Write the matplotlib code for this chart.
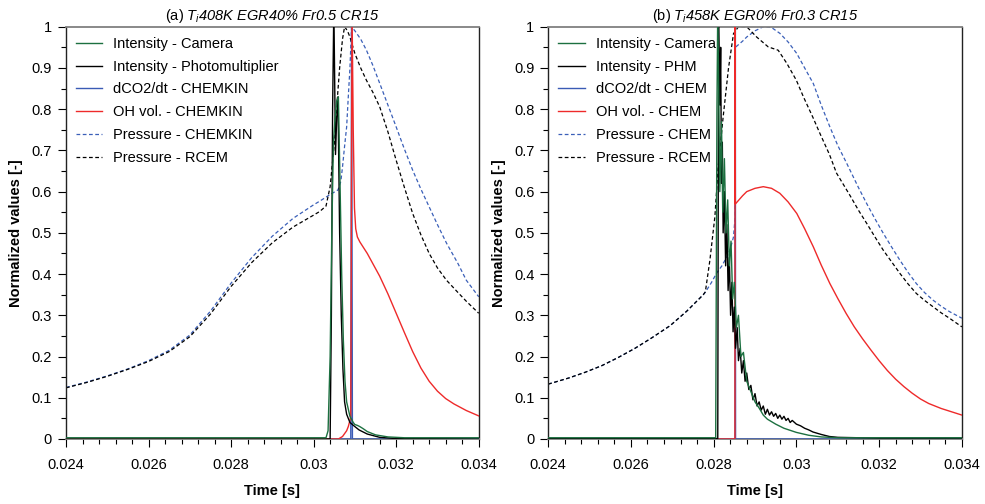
import matplotlib
matplotlib.use("Agg")
import matplotlib.pyplot as plt
from matplotlib.ticker import MultipleLocator, FuncFormatter

plt.rcParams["font.family"] = ["Liberation Sans", "DejaVu Sans"]
plt.rcParams["mathtext.fontset"] = "custom"
plt.rcParams["mathtext.rm"] = "Liberation Sans:italic"
plt.rcParams["mathtext.it"] = "Liberation Sans:italic"

# ---------------- panel (a) ----------------
a_cam_t = [0.024, 0.0303, 0.03035, 0.0304, 0.03044, 0.03048, 0.03052, 0.03056, 0.0306, 0.03064,
           0.03068, 0.03072, 0.03076, 0.0308, 0.03088, 0.03096, 0.0310, 0.03106, 0.03112, 0.0312,
           0.0313, 0.0315, 0.0318, 0.0322, 0.034]
a_cam_v = [0.003, 0.003, 0.02, 0.2, 0.5, 0.72, 0.78, 0.82, 0.83, 0.62,
           0.4, 0.24, 0.14, 0.09, 0.055, 0.04, 0.035, 0.033, 0.03, 0.025,
           0.018, 0.01, 0.005, 0.003, 0.003]

a_phm_t = [0.024, 0.0304, 0.03043, 0.03046, 0.03049, 0.03053, 0.03056, 0.03059, 0.03063, 0.03067,
           0.03071, 0.03075, 0.0308, 0.03088, 0.031, 0.0311, 0.0313, 0.0316, 0.032, 0.034]
a_phm_v = [0.0, 0.0, 0.3, 0.8, 1.05, 0.69, 0.78, 0.83, 0.5, 0.3,
           0.17, 0.09, 0.06, 0.04, 0.03, 0.022, 0.012, 0.004, 0.001, 0.0]

a_dco2_t = [0.024, 0.0309, 0.03092, 0.03094, 0.034]
a_dco2_v = [0.0, 0.0, 1.05, 0.0, 0.0]

a_oh_t = [0.024, 0.0306, 0.0307, 0.03075, 0.0308, 0.03084, 0.03088, 0.0309, 0.03093, 0.03096,
          0.03099, 0.03102, 0.03106, 0.03112, 0.0313, 0.0316, 0.0318, 0.032, 0.0322, 0.0324,
          0.0326, 0.0328, 0.033, 0.0332, 0.0334, 0.0337, 0.034]
a_oh_v = [0.0, 0.0, 0.006, 0.013, 0.02, 0.03, 0.045, 0.055, 1.05, 0.75,
          0.56, 0.51, 0.49, 0.478, 0.45, 0.395, 0.352, 0.305, 0.258, 0.212,
          0.172, 0.14, 0.116, 0.098, 0.085, 0.069, 0.056]

a_pchem_t = [0.024, 0.0245, 0.025, 0.0255, 0.026, 0.0265, 0.027, 0.0275, 0.028, 0.0285,
             0.029, 0.0295, 0.03, 0.03015, 0.0304, 0.03059, 0.03066, 0.0307,
             0.03075, 0.0308, 0.03084, 0.03088, 0.03092, 0.031, 0.03114, 0.03128, 0.03144, 0.0316,
             0.0318, 0.032, 0.0322, 0.0324, 0.0326, 0.0328, 0.033, 0.03322, 0.0335, 0.0337, 0.034]
a_pchem_v = [0.125, 0.138, 0.153, 0.17, 0.19, 0.215, 0.252, 0.31, 0.378, 0.44,
             0.492, 0.535, 0.568, 0.577, 0.593, 0.604, 0.625, 0.66,
             0.71, 0.757, 0.83, 0.9, 1.0, 0.99, 0.97, 0.943, 0.905, 0.863,
             0.81, 0.757, 0.703, 0.652, 0.606, 0.563, 0.52, 0.475, 0.425, 0.385, 0.345]

a_prcem_t = [0.024, 0.0245, 0.025, 0.0255, 0.026, 0.0265, 0.027, 0.0275, 0.028, 0.0285,
             0.029, 0.0295, 0.03, 0.03015, 0.0303, 0.0304, 0.03051, 0.03057,
             0.03063, 0.0307, 0.03075, 0.03082, 0.03088, 0.031, 0.03114, 0.03128, 0.03144, 0.0316,
             0.0318, 0.032, 0.0322, 0.0324, 0.0326, 0.0328, 0.033, 0.03322, 0.0335, 0.0337, 0.034]
a_prcem_v = [0.124, 0.137, 0.152, 0.169, 0.188, 0.212, 0.248, 0.303, 0.37, 0.428,
             0.476, 0.514, 0.543, 0.552, 0.565, 0.612, 0.725, 0.82,
             0.9, 0.97, 1.0, 0.99, 0.975, 0.935, 0.9, 0.87, 0.84, 0.806,
             0.745, 0.676, 0.61, 0.547, 0.495, 0.45, 0.415, 0.385, 0.355, 0.334, 0.305]

# ---------------- panel (b) ----------------
b_cam_t = [0.024, 0.02805, 0.02808, 0.0281, 0.02815, 0.02819, 0.02822, 0.02826, 0.0283, 0.02834,
           0.02838, 0.02842, 0.02846, 0.0285, 0.02855, 0.0286, 0.02866, 0.02872, 0.0288, 0.02888,
           0.029, 0.0291, 0.0292, 0.0293, 0.0295, 0.0297, 0.03, 0.0303, 0.0306, 0.031, 0.034]
b_cam_v = [0.003, 0.003, 0.8, 1.05, 0.6, 0.77, 0.55, 0.68, 0.5, 0.58,
           0.42, 0.48, 0.34, 0.38, 0.27, 0.3, 0.2, 0.21, 0.14, 0.12,
           0.09, 0.075, 0.058, 0.048, 0.036, 0.026, 0.016, 0.009, 0.005, 0.003, 0.003]

b_phm_t = [0.024, 0.0281, 0.02812, 0.02815, 0.02817, 0.02819, 0.02821, 0.02823, 0.02826, 0.02829,
           0.02832, 0.02835, 0.02838, 0.02841, 0.02844, 0.02847, 0.0285, 0.02853, 0.02857, 0.0286,
           0.02864, 0.02868, 0.02872, 0.02876, 0.0288, 0.02885, 0.0289, 0.02895, 0.029, 0.02905,
           0.0291, 0.02915, 0.0292, 0.02925, 0.0293, 0.02935, 0.0294, 0.02945, 0.0295, 0.02955,
           0.0296, 0.02965, 0.0297, 0.02975, 0.0298, 0.02985, 0.0299, 0.03, 0.0301, 0.0302,
           0.0303, 0.0304, 0.0306, 0.0308, 0.031, 0.032, 0.034]
b_phm_v = [0.001, 0.001, 1.05, 0.81, 0.95, 0.62, 0.72, 0.5, 0.6, 0.42,
           0.52, 0.36, 0.44, 0.3, 0.38, 0.26, 0.32, 0.22, 0.27, 0.19,
           0.22, 0.16, 0.19, 0.14, 0.16, 0.12, 0.13, 0.095, 0.11, 0.08,
           0.09, 0.07, 0.08, 0.06, 0.072, 0.058, 0.066, 0.055, 0.062, 0.05,
           0.058, 0.048, 0.055, 0.045, 0.05, 0.04, 0.045, 0.036, 0.032, 0.026,
           0.022, 0.017, 0.011, 0.006, 0.004, 0.002, 0.002]

b_dco2_t = [0.024, 0.02852, 0.028525, 0.02853, 0.034]
b_dco2_v = [0.0, 0.0, 1.05, 0.0, 0.0]

b_oh_t = [0.024, 0.028515, 0.02852, 0.028525, 0.0287, 0.0288, 0.029, 0.0292, 0.0294, 0.0296,
          0.0298, 0.03001, 0.0302, 0.03041, 0.0306, 0.03081, 0.031, 0.0312, 0.0314, 0.0316,
          0.0318, 0.032, 0.0322, 0.0324, 0.0326, 0.0328, 0.033, 0.0332, 0.0335, 0.034]
b_oh_v = [0.0, 0.0, 1.05, 0.57, 0.59, 0.6, 0.608, 0.612, 0.608, 0.596,
          0.575, 0.547, 0.51, 0.466, 0.422, 0.377, 0.341, 0.305, 0.272, 0.243,
          0.216, 0.19, 0.166, 0.145, 0.127, 0.111, 0.097, 0.086, 0.074, 0.058]

b_pchem_t = [0.024, 0.0245, 0.0249, 0.0253, 0.0257, 0.0261, 0.0265, 0.02695, 0.02735, 0.02755,
             0.02775, 0.0278, 0.02795, 0.02807, 0.0282, 0.02832, 0.0284, 0.02848, 0.02852, 0.028525,
             0.0287, 0.0288, 0.029, 0.0292, 0.0294, 0.0296, 0.0298, 0.03001, 0.0302, 0.03041,
             0.0306, 0.03081, 0.031, 0.03122, 0.0315, 0.0317, 0.0319, 0.0321, 0.0323, 0.0325,
             0.0327, 0.0329, 0.0331, 0.0333, 0.0335, 0.0337, 0.034]
b_pchem_v = [0.133, 0.148, 0.162, 0.178, 0.198, 0.22, 0.245, 0.275, 0.31, 0.33,
             0.35, 0.356, 0.38, 0.402, 0.42, 0.442, 0.46, 0.49, 0.539, 0.95,
             0.965, 0.975, 0.99, 1.0, 0.998, 0.984, 0.963, 0.935, 0.9, 0.862,
             0.81, 0.757, 0.712, 0.668, 0.61, 0.571, 0.534, 0.499, 0.466, 0.434,
             0.404, 0.377, 0.355, 0.337, 0.322, 0.309, 0.293]

b_prcem_t = [0.024, 0.0245, 0.0249, 0.0253, 0.0257, 0.0261, 0.0265, 0.02695, 0.02735, 0.02755,
             0.02775, 0.0278, 0.02791, 0.02803, 0.02811, 0.02823, 0.02836, 0.02848, 0.0286, 0.0288,
             0.02904, 0.02932, 0.02956, 0.02977, 0.03, 0.03017, 0.0304, 0.03057, 0.0308, 0.03097,
             0.0313, 0.0315, 0.0317, 0.0319, 0.0321, 0.0323, 0.0325, 0.0327, 0.0329, 0.0331,
             0.0333, 0.0335, 0.0337, 0.034]
b_prcem_v = [0.133, 0.148, 0.162, 0.178, 0.198, 0.22, 0.245, 0.275, 0.31, 0.33,
             0.35, 0.357, 0.434, 0.539, 0.66, 0.781, 0.9, 0.983, 1.0, 1.0,
             0.975, 0.951, 0.943, 0.911, 0.87, 0.83, 0.78, 0.741, 0.69, 0.645,
             0.59, 0.555, 0.523, 0.49, 0.458, 0.43, 0.402, 0.376, 0.353, 0.336,
             0.321, 0.306, 0.293, 0.272]

panels = [
    {
        "title": r"(a) $T_i408K\ EGR40\%\ Fr0.5\ CR15$",
        "series": [
            (a_cam_t, a_cam_v, "Intensity - Camera"),
            (a_phm_t, a_phm_v, "Intensity - Photomultiplier"),
            (a_dco2_t, a_dco2_v, "dCO2/dt - CHEMKIN"),
            (a_oh_t, a_oh_v, "OH vol. - CHEMKIN"),
            (a_pchem_t, a_pchem_v, "Pressure - CHEMKIN"),
            (a_prcem_t, a_prcem_v, "Pressure - RCEM"),
        ],
    },
    {
        "title": r"(b) $T_i458K\ EGR0\%\ Fr0.3\ CR15$",
        "series": [
            (b_cam_t, b_cam_v, "Intensity - Camera"),
            (b_phm_t, b_phm_v, "Intensity - PHM"),
            (b_dco2_t, b_dco2_v, "dCO2/dt - CHEM"),
            (b_oh_t, b_oh_v, "OH vol. - CHEM"),
            (b_pchem_t, b_pchem_v, "Pressure - CHEM"),
            (b_prcem_t, b_prcem_v, "Pressure - RCEM"),
        ],
    },
]

styles = [
    dict(color="#1c7040", lw=1.0, ls="-", zorder=6),
    dict(color="black", lw=1.0, ls="-", zorder=5),
    dict(color="#3a5bb5", lw=1.0, ls="-", zorder=3),
    dict(color="#ee2a2a", lw=1.0, ls="-", zorder=4),
    dict(color="#3a5fb8", lw=0.9, ls=(0, (3, 2)), zorder=2),
    dict(color="black", lw=0.9, ls=(0, (3, 2)), zorder=2),
]

fig = plt.figure(figsize=(9.85, 5.04), dpi=100)
ax_pos = [[0.067, 0.129, 0.419, 0.818], [0.5565, 0.129, 0.42, 0.818]]

for pos, panel in zip(ax_pos, panels):
    ax = fig.add_axes(pos)
    for (t, v, lab), st in zip(panel["series"], styles):
        ax.plot(t, v, label=lab, **st)

    ax.set_xlim(0.024, 0.034)
    ax.set_ylim(0, 1)
    ax.xaxis.set_major_locator(MultipleLocator(0.002))
    ax.xaxis.set_minor_locator(MultipleLocator(0.0004))
    ax.yaxis.set_major_locator(MultipleLocator(0.1))
    ax.yaxis.set_minor_locator(MultipleLocator(0.05))
    ax.xaxis.set_major_formatter(FuncFormatter(lambda x, p: "%g" % round(x, 4)))
    ax.yaxis.set_major_formatter(FuncFormatter(lambda y, p: "%g" % round(y, 2)))
    ax.tick_params(which="major", direction="out", length=6, width=0.8, labelsize=10.5, pad=4)
    ax.tick_params(which="minor", direction="out", length=3.5, width=0.8)
    ax.tick_params(axis="x", which="major", pad=8)

    for side in ["top", "bottom"]:
        ax.spines[side].set_color("#808080")
        ax.spines[side].set_linewidth(1.3)
    for side in ["left", "right"]:
        ax.spines[side].set_color("#222222")
        ax.spines[side].set_linewidth(1.0)

    ax.set_title(panel["title"], fontsize=10.5, pad=5)
    ax.set_xlabel("Time [s]", fontsize=10.5, fontweight="bold", labelpad=8)
    ax.set_ylabel("Normalized values [-]", fontsize=10.5, fontweight="bold", labelpad=6)

    ax.legend(loc="upper left", frameon=False, fontsize=10.5, handlelength=1.8,
              handletextpad=0.75, labelspacing=0.6, borderaxespad=0.3,
              bbox_to_anchor=(0.0, 1.0))

fig.savefig("out.png", dpi=100)
